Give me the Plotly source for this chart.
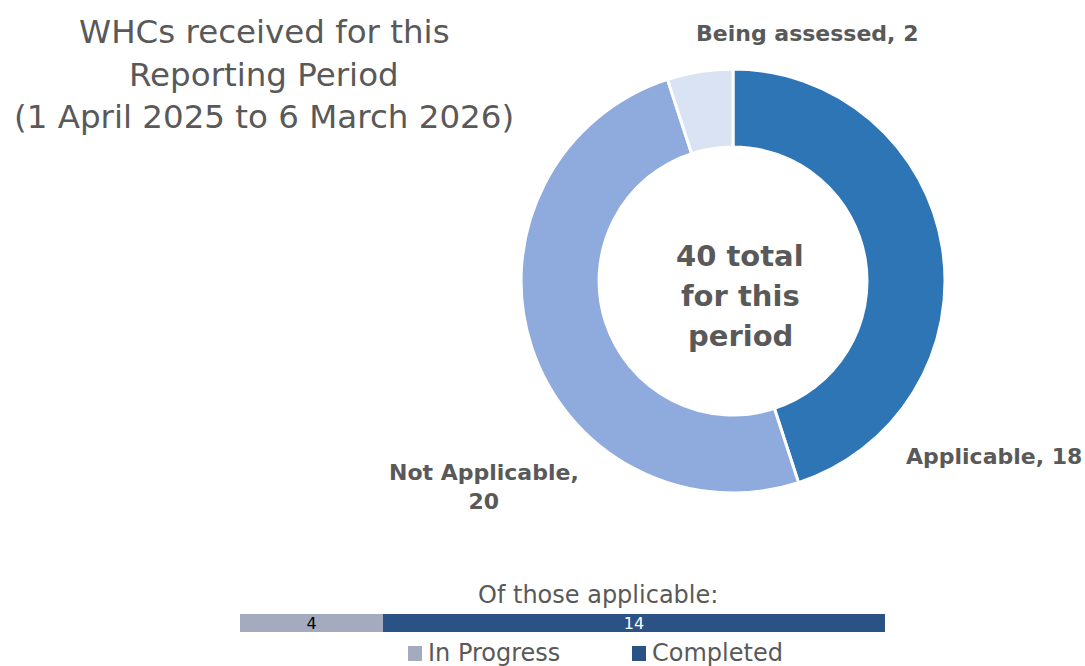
import plotly.graph_objects as go

# Data
pie_labels = ["Applicable", "Not Applicable", "Being assessed"]
pie_values = [18, 20, 2]
pie_colors = ["#2E75B6", "#8FAADC", "#DAE3F3"]

bar_labels = ["In Progress", "Completed"]
bar_values = [4, 14]
bar_colors = ["#A5ABBF", "#2A5285"]
bar_text_colors = ["#000000", "#FFFFFF"]

title_lines = ["WHCs received for this", "Reporting Period", "(1 April 2025 to 6 March 2026)"]
center_lines = [f"{sum(pie_values)} total", "for this", "period"]
subtitle = "Of those applicable:"

W, H = 1085, 666
FONT = "DejaVu Sans"
GREY = "#595959"

fig = go.Figure()

fig.add_trace(go.Pie(
    labels=pie_labels, values=pie_values,
    marker=dict(colors=pie_colors, line=dict(color="white", width=3)),
    hole=0.632, sort=False, direction="clockwise", rotation=0,
    textinfo="none", showlegend=False, hoverinfo="label+value",
    domain=dict(x=[521 / W, 945 / W], y=[1 - 493 / H, 1 - 69 / H]),
))

for lab, val, col, tcol in zip(bar_labels, bar_values, bar_colors, bar_text_colors):
    fig.add_trace(go.Bar(
        x=[val], y=[0], orientation="h", name=lab,
        marker=dict(color=col, line=dict(width=0)),
        text=[str(val)], textposition="inside", insidetextanchor="middle",
        textangle=0, constraintext="none",
        textfont=dict(color=tcol, size=16, family=FONT),
        width=0.5, xaxis="x", yaxis="y", showlegend=False,
    ))

fig.update_layout(
    width=W, height=H,
    margin=dict(l=0, r=0, t=0, b=0, pad=0),
    paper_bgcolor="white", plot_bgcolor="white",
    barmode="stack", bargap=0,
    xaxis=dict(domain=[240 / W, 885 / W], range=[0, sum(bar_values)], visible=False, fixedrange=True),
    yaxis=dict(domain=[1 - 641 / H, 1 - 605 / H], range=[-0.5, 0.5], visible=False, fixedrange=True),
    showlegend=False,
    font=dict(family=FONT, color=GREY),
)

ann = []
for i, line in enumerate(title_lines):
    ann.append(dict(text=line, x=264 / W, y=1 - (32 + 42.5 * i) / H, xref="paper", yref="paper",
                    showarrow=False, font=dict(size=32.5, color=GREY, family=FONT),
                    xanchor="center", yanchor="middle"))
for i, line in enumerate(center_lines):
    ann.append(dict(text=f"<b>{line}</b>", x=740 / W, y=1 - (256 + 40 * i) / H,
                    xref="paper", yref="paper", showarrow=False,
                    font=dict(size=29, color=GREY, family=FONT),
                    xanchor="center", yanchor="middle"))
label_pos = {
    "Applicable": (994, 456, "{l}, {v}"),
    "Not Applicable": (484, 487, "{l},<br>{v}"),
    "Being assessed": (807, 33, "{l}, {v}"),
}
for lab, val in zip(pie_labels, pie_values):
    px, py, fmt = label_pos[lab]
    ann.append(dict(text="<b>" + fmt.format(l=lab, v=val) + "</b>", x=px / W, y=1 - py / H,
                    xref="paper", yref="paper", showarrow=False,
                    font=dict(size=22, color=GREY, family=FONT), align="center",
                    xanchor="center", yanchor="middle"))
ann.append(dict(text=subtitle, x=598 / W, y=1 - 595 / H, xref="paper", yref="paper", showarrow=False,
                font=dict(size=24, color=GREY, family=FONT), xanchor="center", yanchor="middle"))

# Legend (custom)
legend_x = [408, 632]
shapes = []
for lx, lab, col in zip(legend_x, bar_labels, bar_colors):
    shapes.append(dict(type="rect", xref="paper", yref="paper",
                       x0=lx / W, x1=(lx + 14) / W, y0=1 - 661 / H, y1=1 - 646 / H,
                       fillcolor=col, line=dict(width=0)))
    ann.append(dict(text=lab, x=(lx + 18) / W, y=1 - 653 / H, xref="paper", yref="paper",
                    showarrow=False, font=dict(size=24, color=GREY, family=FONT),
                    xanchor="left", yanchor="middle"))
fig.update_layout(annotations=ann, shapes=shapes)

fig.write_html("out.html", config={"displayModeBar": False},
               post_script="document.body.style.margin='0px';document.body.style.overflow='hidden';")
